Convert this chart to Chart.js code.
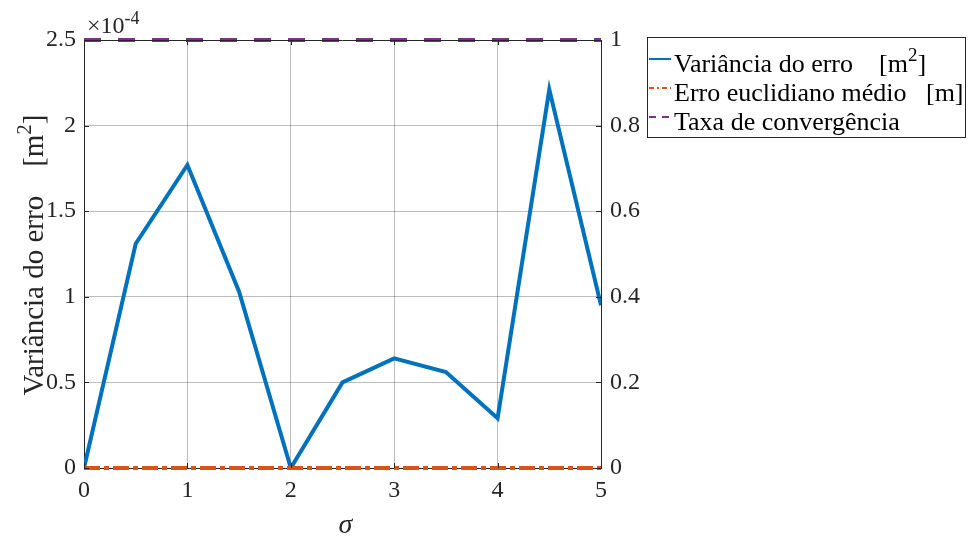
<!DOCTYPE html>
<html>
<head>
<meta charset="utf-8">
<script src="https://cdn.jsdelivr.net/npm/chart.js@4.4.0/dist/chart.umd.min.js"></script>
<style>
  html, body { margin: 0; padding: 0; background: #fff; }
  #wrap { width: 968px; height: 538px; }
</style>
</head>
<body>
<div id="wrap"><canvas id="chart" width="968" height="538"></canvas></div>
<script>
// sigma values on the x axis
const sigma = [0, 0.5, 1, 1.5, 2, 2.5, 3, 3.5, 4, 4.5, 5];
// variance of the error, in units of 10^-4 m^2 (left axis)
const variancia = [0, 1.31, 1.77, 1.03, 0, 0.50, 0.64, 0.56, 0.29, 2.21, 0.95];
// mean euclidean error [m] (right axis)
const erroEuclidiano = [0, 0, 0, 0, 0, 0, 0, 0, 0, 0, 0];
// convergence rate (right axis)
const taxaConvergencia = [1, 1, 1, 1, 1, 1, 1, 1, 1, 1, 1];

const xTicks = [0, 1, 2, 3, 4, 5];
const leftTicks = [0, 0.5, 1, 1.5, 2, 2.5];
const rightTicks = [0, 0.2, 0.4, 0.6, 0.8, 1];

const seriesNames = ['Variância do erro', 'Erro euclidiano médio', 'Taxa de convergência'];
// unit: [gap + open, superscript, close]
const seriesUnits = [['    [m', '2', ']'], ['   [m', '', ']'], null];
const axisTitleY = 'Variância do erro';
const axisTitleX = 'σ';

const FONT = '"Liberation Serif", "Times New Roman", serif';
const INK = '#262626';

const toXY = ys => sigma.map((s, i) => ({ x: s, y: ys[i] }));

// text with an optional superscript piece
function drawRuns(ctx, runs, x, y, align) {
  let total = 0;
  runs.forEach(r => { ctx.font = r.font; total += ctx.measureText(r.t).width; });
  let cx = align === 'center' ? x - total / 2 : x;
  runs.forEach(r => {
    ctx.font = r.font;
    ctx.fillText(r.t, cx, y - (r.rise || 0));
    cx += ctx.measureText(r.t).width;
  });
}

function labelRuns(i, size, supSize) {
  const runs = [{ t: seriesNames[i], font: size + 'px ' + FONT }];
  const u = seriesUnits[i];
  if (u) {
    runs.push({ t: u[0], font: size + 'px ' + FONT });
    if (u[1]) runs.push({ t: u[1], font: supSize + 'px ' + FONT, rise: size * 0.42 });
    runs.push({ t: u[2], font: size + 'px ' + FONT });
  }
  return runs;
}

const decor = {
  id: 'decor',
  afterDraw(chart) {
    const ctx = chart.ctx;
    const a = chart.chartArea;
    const sx = chart.scales.x, sl = chart.scales.yL, sr = chart.scales.yR;
    ctx.save();
    ctx.strokeStyle = INK;
    ctx.lineWidth = 1;
    // top border
    ctx.beginPath();
    ctx.moveTo(a.left, a.top + 0.5);
    ctx.lineTo(a.right, a.top + 0.5);
    ctx.stroke();
    // inward ticks
    ctx.beginPath();
    xTicks.forEach(v => {
      const px = Math.round(sx.getPixelForValue(v)) + 0.5;
      ctx.moveTo(px, a.bottom); ctx.lineTo(px, a.bottom - 5);
      ctx.moveTo(px, a.top); ctx.lineTo(px, a.top + 5);
    });
    leftTicks.forEach(v => {
      const py = Math.round(sl.getPixelForValue(v)) + 0.5;
      ctx.moveTo(a.left, py); ctx.lineTo(a.left + 5, py);
    });
    rightTicks.forEach(v => {
      const py = Math.round(sr.getPixelForValue(v)) + 0.5;
      ctx.moveTo(a.right, py); ctx.lineTo(a.right - 5, py);
    });
    ctx.stroke();

    ctx.fillStyle = INK;
    ctx.textBaseline = 'alphabetic';
    // exponent over the left axis
    drawRuns(ctx, [
      { t: '×10', font: '24px ' + FONT },
      { t: '-4', font: '18px ' + FONT, rise: 9 }
    ], 87, 33, 'left');

    // y axis title
    ctx.save();
    ctx.translate(43, 255);
    ctx.rotate(-Math.PI / 2);
    const yRuns = labelRuns(0, 29, 21);
    yRuns[0].t = axisTitleY;
    drawRuns(ctx, yRuns, 0, 0, 'center');
    ctx.restore();

    // x axis title
    ctx.font = 'italic 28px ' + FONT;
    ctx.textAlign = 'center';
    ctx.fillText(axisTitleX, (a.left + a.right) / 2 + 3, 533);
    ctx.textAlign = 'left';

    // legend
    ctx.fillStyle = '#fff';
    ctx.fillRect(647, 37, 319, 100);
    ctx.strokeStyle = INK;
    ctx.strokeRect(647.5, 37.5, 318, 100);
    const baselines = [72, 101, 130];
    chart.data.datasets.forEach((ds, i) => {
      const by = baselines[i];
      ctx.save();
      ctx.strokeStyle = ds.borderColor;
      ctx.lineWidth = 2;
      ctx.setLineDash(ds.legendDash || []);
      ctx.beginPath();
      ctx.moveTo(649, by - 13);
      ctx.lineTo(671, by - 13);
      ctx.stroke();
      ctx.restore();
      ctx.fillStyle = '#000';
      drawRuns(ctx, labelRuns(i, 26, 19), 674, by, 'left');
    });
    ctx.restore();
  }
};

const tickFont = { family: FONT, size: 24 };
const plain = v => String(Number(v.toFixed(2)));

new Chart(document.getElementById('chart'), {
  type: 'line',
  data: {
    datasets: [
      {
        label: seriesNames[0], data: toXY(variancia), yAxisID: 'yL',
        borderColor: '#0072BD', borderWidth: 4, pointRadius: 0, order: 2,
        legendDash: []
      },
      {
        label: seriesNames[1], data: toXY(erroEuclidiano), yAxisID: 'yR',
        borderColor: '#D95319', borderWidth: 4, borderDash: [16, 4, 5, 4],
        pointRadius: 0, order: 1, clip: false, legendDash: [5, 3, 2, 3]
      },
      {
        label: seriesNames[2], data: toXY(taxaConvergencia), yAxisID: 'yR',
        borderColor: '#7E2F8E', borderWidth: 4, borderDash: [17, 17],
        pointRadius: 0, order: 0, clip: false, legendDash: [7, 6]
      }
    ]
  },
  options: {
    responsive: false,
    animation: false,
    layout: { padding: { top: 40, left: 0, right: 0, bottom: 0 } },
    plugins: { legend: { display: false }, tooltip: { enabled: false } },
    scales: {
      x: {
        type: 'linear', min: 0, max: 5,
        afterBuildTicks: s => { s.ticks = xTicks.map(v => ({ value: v })); },
        afterFit: s => { s.height = 70; },
        grid: { color: 'rgba(0,0,0,0.26)', drawTicks: false },
        border: { color: INK },
        ticks: { font: tickFont, color: INK, padding: 8, maxRotation: 0, callback: plain }
      },
      yL: {
        position: 'left', min: 0, max: 2.5,
        afterBuildTicks: s => { s.ticks = leftTicks.map(v => ({ value: v })); },
        afterFit: s => { s.width = 84; },
        grid: { color: 'rgba(0,0,0,0.26)', drawTicks: false },
        border: { color: INK },
        ticks: { font: tickFont, color: INK, padding: 8, callback: plain }
      },
      yR: {
        position: 'right', min: 0, max: 1,
        afterBuildTicks: s => { s.ticks = rightTicks.map(v => ({ value: v })); },
        afterFit: s => { s.width = 367; },
        grid: { display: false, drawTicks: false },
        border: { color: INK },
        ticks: { font: tickFont, color: INK, padding: 9, callback: plain }
      }
    }
  },
  plugins: [decor]
});
</script>
</body>
</html>
